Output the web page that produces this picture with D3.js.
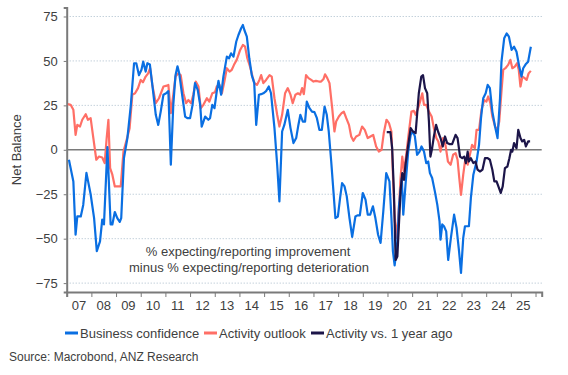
<!DOCTYPE html>
<html>
<head>
<meta charset="utf-8">
<script src="https://cdn.jsdelivr.net/npm/d3@7"></script>
<style>
  body { margin: 0; background: #fff; }
  svg { display: block; font-family: "Liberation Sans", Arial, sans-serif; }
</style>
</head>
<body>
<div id="chart"></div>
<script>
// [decimal year, net balance]
const businessConfidence = [
  [2007.09,-5.6],[2007.27,-17.8],[2007.36,-47.8],[2007.43,-37.5],[2007.57,-37.5],[2007.67,-31],[2007.80,-13],
  [2007.97,-25],[2008.11,-38.4],[2008.22,-57],[2008.35,-51.5],[2008.44,-39.3],[2008.51,-42],[2008.65,1.5],
  [2008.78,-42],[2008.85,-42],[2008.95,-35],[2009.05,-38.4],[2009.15,-40.6],[2009.21,-38.4],[2009.32,-4.7],
  [2009.46,6.6],[2009.60,25.3],[2009.73,48.7],[2009.82,48.7],[2009.93,42],[2010.03,45],[2010.10,49.6],
  [2010.20,44],[2010.27,48.7],[2010.37,48],[2010.47,36.5],[2010.61,19.7],[2010.71,14],[2010.81,21.5],
  [2010.92,31],[2011.03,31.8],[2011.12,33],[2011.22,-8.4],[2011.32,25.3],[2011.41,42],[2011.49,47],
  [2011.56,43],[2011.66,32.8],[2011.80,18.7],[2011.89,17.8],[2012.00,17.8],[2012.10,25.3],[2012.20,37.5],
  [2012.31,33.7],[2012.41,25.3],[2012.47,13],[2012.61,18.7],[2012.74,16.9],[2012.81,17.8],[2012.90,25.3],
  [2012.99,23.4],[2013.08,32.8],[2013.15,38.8],[2013.26,31],[2013.35,41.2],[2013.42,46.8],[2013.49,52.4],
  [2013.58,51.5],[2013.66,54.3],[2013.76,52.4],[2013.87,60.8],[2013.96,64.6],[2014.07,68.4],[2014.14,70.2],
  [2014.20,67.4],[2014.30,63.7],[2014.40,51.5],[2014.50,42],[2014.60,37.5],[2014.68,14],[2014.79,31],
  [2014.88,31.3],[2014.97,31.8],[2015.08,33],[2015.19,35.6],[2015.28,31.8],[2015.42,12.2],[2015.53,-8.4],
  [2015.62,-29],[2015.73,10.3],[2015.82,14],[2015.96,22.5],[2016.07,12.2],[2016.19,3.8],[2016.30,6.6],
  [2016.39,14],[2016.47,19.7],[2016.57,15.9],[2016.66,15.9],[2016.73,27.1],[2016.84,23.4],[2016.94,21.5],
  [2017.04,21.2],[2017.14,17.8],[2017.24,11.2],[2017.34,11.2],[2017.45,24.3],[2017.54,19.7],[2017.62,10.3],
  [2017.72,-6.6],[2017.81,-23.4],[2017.89,-38.4],[2017.99,-37.5],[2018.08,-27.1],[2018.16,-18.7],[2018.26,-20.6],
  [2018.35,-26.2],[2018.46,-38.4],[2018.57,-49],[2018.70,-37.5],[2018.78,-36.9],[2018.88,-36.9],[2019.00,-24.3],
  [2019.11,-28],[2019.20,-36.5],[2019.30,-36.5],[2019.41,-31.8],[2019.51,-38.4],[2019.62,-47.8],[2019.72,-52.4],
  [2019.83,-34.7],[2019.95,-13.1],[2020.08,-17.8],[2020.16,-38.4],[2020.22,-57],[2020.29,-65],[2020.40,-51.5],
  [2020.47,-31],[2020.58,-15.9],[2020.64,-36.5],[2020.73,-19.7],[2020.84,-1],[2020.94,8.4],[2021.03,10.3],
  [2021.11,7.5],[2021.20,-2.8],[2021.30,-1],[2021.38,1.9],[2021.48,-1],[2021.57,-7.5],[2021.65,-6.6],
  [2021.72,-13.1],[2021.81,-15.9],[2021.92,-23.4],[2022.02,-31],[2022.11,-40.3],[2022.15,-50.6],[2022.22,-42],
  [2022.29,-43],[2022.38,-45.9],[2022.46,-62],[2022.57,-49.6],[2022.70,-36.5],[2022.80,-44],[2022.90,-57],
  [2022.98,-69.3],[2023.07,-49.6],[2023.14,-43],[2023.30,-43],[2023.38,-27.1],[2023.48,-14],[2023.61,-6.6],
  [2023.71,2.8],[2023.79,17.8],[2023.88,29],[2023.98,31.8],[2024.06,36.5],[2024.15,34.7],[2024.25,21.5],
  [2024.36,13.1],[2024.46,6.6],[2024.56,29],[2024.62,49.6],[2024.73,62.7],[2024.83,65.5],[2024.92,63.7],
  [2025.03,56.2],[2025.13,58],[2025.23,55.2],[2025.34,46.8],[2025.43,41.2],[2025.50,45.9],[2025.60,48.1],
  [2025.70,49.6],[2025.81,58]
];

const activityOutlook = [
  [2007.05,25.7],[2007.16,25.3],[2007.27,22.5],[2007.36,8.4],[2007.43,14],[2007.54,13.1],[2007.63,16.9],
  [2007.77,20],[2007.86,16.9],[2007.97,17.8],[2008.08,6.6],[2008.20,-5.6],[2008.31,-3.8],[2008.44,-4.3],
  [2008.54,-7.5],[2008.62,6.6],[2008.69,16.9],[2008.76,-10.3],[2008.85,-14],[2008.95,-20.6],[2009.05,-20.6],
  [2009.19,-20.6],[2009.30,-1],[2009.43,5.6],[2009.55,12.2],[2009.66,31],[2009.77,31.8],[2009.89,34.7],
  [2010.00,39.3],[2010.09,38],[2010.20,41.2],[2010.30,43],[2010.38,45.9],[2010.47,36.5],[2010.61,26.2],
  [2010.74,29],[2010.92,35.6],[2011.06,36.1],[2011.12,36.5],[2011.22,20.6],[2011.32,31],[2011.41,41.2],
  [2011.52,43],[2011.62,42],[2011.73,31.8],[2011.84,26.2],[2011.93,28],[2012.04,26.2],[2012.13,31],
  [2012.23,38.4],[2012.34,35.6],[2012.43,23.4],[2012.54,25.3],[2012.68,29],[2012.78,27.1],[2012.90,31.8],
  [2013.01,32.4],[2013.08,35.6],[2013.19,36.5],[2013.29,31.8],[2013.39,38.4],[2013.49,45.9],[2013.60,44],
  [2013.69,45],[2013.78,47.8],[2013.89,50.6],[2014.03,56.2],[2014.14,59],[2014.23,58],[2014.32,51.5],
  [2014.43,46.8],[2014.53,41.2],[2014.61,37.5],[2014.71,36.5],[2014.81,39.3],[2014.88,42],[2014.97,37.5],
  [2015.08,39.3],[2015.22,42],[2015.31,41.2],[2015.42,29],[2015.53,19.7],[2015.62,13.1],[2015.73,19.7],
  [2015.85,31.8],[2015.96,34.7],[2016.07,31],[2016.16,26.2],[2016.27,31],[2016.37,31.8],[2016.46,31],
  [2016.54,34.7],[2016.61,31.3],[2016.70,42],[2016.80,40.3],[2016.91,39.3],[2017.00,38.4],[2017.10,38.8],
  [2017.22,38.4],[2017.31,38.4],[2017.41,39.9],[2017.47,42.5],[2017.56,40.3],[2017.65,37.5],[2017.76,23.4],
  [2017.85,10.3],[2017.92,15.9],[2018.03,18.7],[2018.14,20.6],[2018.23,21.5],[2018.33,17.8],[2018.44,14],
  [2018.53,7.5],[2018.62,5.1],[2018.73,7.5],[2018.86,8.4],[2018.97,13.1],[2019.08,11.2],[2019.20,6.6],
  [2019.31,7.5],[2019.42,8.4],[2019.54,1.9],[2019.65,-1],[2019.76,0],[2019.85,9.4],[2019.96,16.9],
  [2020.06,15],[2020.16,10.3],[2020.23,-17.8],[2020.30,-40.3],[2020.37,-49.6],[2020.47,-31],[2020.53,-15.9],
  [2020.60,-3.8],[2020.67,-12.2],[2020.76,-2.8],[2020.87,10.3],[2020.97,21.5],[2021.07,21.9],[2021.14,19.7],
  [2021.24,23.4],[2021.32,27.1],[2021.41,31.8],[2021.48,25.3],[2021.57,25.3],[2021.68,21.5],[2021.79,18.7],
  [2021.88,12.2],[2021.98,6.6],[2022.06,4.7],[2022.15,-1],[2022.25,6.6],[2022.35,2.8],[2022.45,-6.6],
  [2022.56,-8.4],[2022.66,-2.8],[2022.76,-1.9],[2022.84,-5.6],[2022.91,-15.9],[2022.98,-25.3],[2023.07,-14],
  [2023.16,-4.7],[2023.25,-8.4],[2023.34,-2.8],[2023.43,2.8],[2023.54,0.9],[2023.61,11.2],[2023.71,11.2],
  [2023.81,22.5],[2023.92,28],[2024.01,27.1],[2024.08,30],[2024.17,26.2],[2024.25,18.7],[2024.36,13.1],
  [2024.45,11.2],[2024.53,15.9],[2024.62,32.8],[2024.69,45],[2024.78,45.9],[2024.89,47.8],[2024.98,50.6],
  [2025.06,45.9],[2025.16,46.8],[2025.25,48.7],[2025.32,45],[2025.39,35.6],[2025.47,41.2],[2025.56,40.3],
  [2025.64,39.3],[2025.72,43],[2025.81,44.4]
];

const activityVsYearAgo = [
  [2019.97,9.9],[2020.12,9.9],[2020.19,0.9],[2020.26,-23.4],[2020.33,-62],[2020.40,-60],[2020.47,-40.3],
  [2020.53,-23.4],[2020.60,-13.1],[2020.67,-16.9],[2020.73,-8.4],[2020.84,2.8],[2020.94,12.2],[2021.03,10.3],
  [2021.14,9.4],[2021.20,19.7],[2021.27,31.8],[2021.37,41.2],[2021.44,42],[2021.52,34.7],[2021.61,31.8],
  [2021.68,15.9],[2021.74,-3.8],[2021.81,0.9],[2021.88,7.5],[2021.97,14],[2022.05,10.3],[2022.15,6.6],
  [2022.24,1.9],[2022.33,7.5],[2022.42,3.8],[2022.51,3.2],[2022.62,3.2],[2022.76,8.4],[2022.84,6.6],
  [2022.94,-3.8],[2023.03,-4.7],[2023.11,-3.8],[2023.18,-7.5],[2023.25,-1],[2023.30,-6.6],[2023.38,-4.7],
  [2023.48,-7.5],[2023.57,-6.6],[2023.65,-11.2],[2023.75,-12.2],[2023.85,-11.2],[2023.95,-4.7],[2024.06,-4.7],
  [2024.15,-5.6],[2024.25,-11.2],[2024.33,-17.8],[2024.42,-17.8],[2024.52,-21.5],[2024.59,-24.3],[2024.67,-20.6],
  [2024.76,-10.3],[2024.86,-9.4],[2024.94,-4.7],[2025.01,0],[2025.06,-1],[2025.13,3.8],[2025.23,0.9],
  [2025.30,11.2],[2025.39,6.6],[2025.46,4.7],[2025.54,5.6],[2025.61,1.9],[2025.70,4.7],[2025.78,4.7]
];

const yTicks = [-75, -50, -25, 0, 25, 50, 75];
const years = d3.range(2007, 2026);
const seriesNames = ["Business confidence", "Activity outlook", "Activity vs. 1 year ago"];
const seriesColors = ["#0a6fe2", "#ff6f66", "#1c1549"];

const width = 568, height = 375;
const margin = { left: 66.7, right: 26.3, top: 7.6, bottom: 83 };
const textColor = "#404040";

const svg = d3.select("#chart")
  .append("svg")
  .attr("width", width)
  .attr("height", height);

const x = d3.scaleLinear()
  .domain([2007, 2026.25])
  .range([margin.left, width - margin.right]);

const y = d3.scaleLinear()
  .domain([-80, 80])
  .range([height - margin.bottom, margin.top]);

// grid
svg.append("g")
  .selectAll("line")
  .data(yTicks.filter(d => d !== 0))
  .enter()
  .append("line")
    .attr("x1", x.range()[0])
    .attr("x2", x.range()[1])
    .attr("y1", d => y(d))
    .attr("y2", d => y(d))
    .attr("stroke", "#a9bccb")
    .attr("stroke-width", 1)
    .attr("stroke-dasharray", "1,2");

// y axis
const yAxis = svg.append("g")
  .attr("transform", `translate(${margin.left},0)`)
  .call(d3.axisLeft(y).tickValues(yTicks).tickSize(3).tickPadding(6));
yAxis.select(".domain").attr("stroke", "#7a7a7a").attr("stroke-width", 2);
yAxis.selectAll(".tick line").attr("stroke", "#7a7a7a");
yAxis.selectAll("text")
  .attr("font-size", 13)
  .attr("fill", textColor)
  .style("font-family", "Liberation Sans, Arial, sans-serif");

// x axis: ticks at year boundaries, labels centred in each year
const xAxis = svg.append("g")
  .attr("transform", `translate(0,${y.range()[0]})`)
  .call(d3.axisBottom(x).tickValues(d3.range(2007, 2027)).tickSize(5).tickFormat(""));
xAxis.select(".domain").attr("stroke", "#7a7a7a").attr("stroke-width", 2);
xAxis.selectAll(".tick line").attr("stroke", "#7a7a7a");

svg.append("g")
  .selectAll("text")
  .data(years)
  .enter()
  .append("text")
    .attr("x", d => x(d + 0.5))
    .attr("y", y.range()[0] + 18)
    .attr("text-anchor", "middle")
    .attr("font-size", 13)
    .attr("fill", textColor)
    .text(d => String(d).slice(2));

// zero line
svg.append("line")
  .attr("x1", x.range()[0])
  .attr("x2", x.range()[1])
  .attr("y1", y(0))
  .attr("y2", y(0))
  .attr("stroke", "#7a7a7a")
  .attr("stroke-width", 1.6);

// lines
const line = d3.line()
  .x(d => x(d[0]))
  .y(d => y(d[1]));

[activityOutlook, businessConfidence, activityVsYearAgo].forEach((s, i) => {
  const colorIdx = [1, 0, 2][i];
  svg.append("path")
    .datum(s)
    .attr("d", line)
    .attr("fill", "none")
    .attr("stroke", seriesColors[colorIdx])
    .attr("stroke-width", 2.2)
    .attr("stroke-linejoin", "round");
});

// y label
svg.append("text")
  .attr("transform", `translate(21,${y(0)}) rotate(-90)`)
  .attr("text-anchor", "middle")
  .attr("font-size", 13)
  .attr("fill", textColor)
  .text("Net Balance");

// annotation
svg.append("text")
  .attr("x", 248)
  .attr("y", 256)
  .attr("text-anchor", "middle")
  .attr("font-size", 13)
  .attr("fill", textColor)
  .text("% expecting/reporting improvement");
svg.append("text")
  .attr("x", 249)
  .attr("y", 272)
  .attr("text-anchor", "middle")
  .attr("font-size", 13)
  .attr("fill", textColor)
  .text("minus % expecting/reporting deterioration");

// legend
const legendX = [65, 204, 311];
const legend = svg.append("g")
  .selectAll("g")
  .data(seriesNames)
  .enter()
  .append("g")
  .attr("transform", (d, i) => `translate(${legendX[i]},333)`);
legend.append("line")
  .attr("x1", 0)
  .attr("x2", 13)
  .attr("stroke", (d, i) => seriesColors[i])
  .attr("stroke-width", 3);
legend.append("text")
  .attr("x", 15)
  .attr("y", 4.5)
  .attr("font-size", 13)
  .attr("fill", textColor)
  .text(d => d);

// source
svg.append("text")
  .attr("x", 9)
  .attr("y", 361)
  .attr("font-size", 12)
  .attr("fill", textColor)
  .text("Source: Macrobond, ANZ Research");
</script>
</body>
</html>
